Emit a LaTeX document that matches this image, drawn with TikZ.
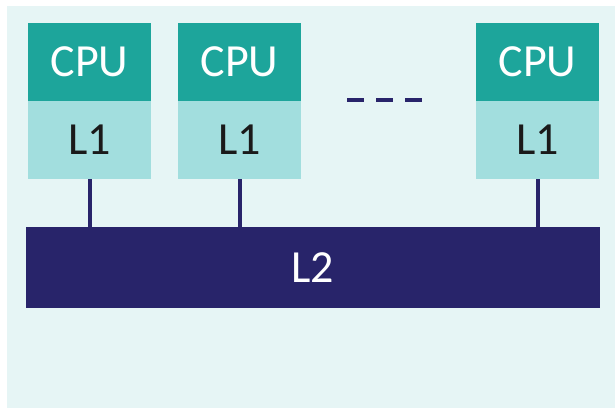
\documentclass[tikz,border=0pt]{standalone}
\usepackage{fontspec}
\setmainfont{Carlito}
\definecolor{bgc}{HTML}{E6F5F5}
\definecolor{cpuc}{HTML}{1DA59B}
\definecolor{lonec}{HTML}{A2DEDE}
\definecolor{busc}{HTML}{28246A}
\definecolor{txtc}{HTML}{1A1A1A}
\begin{document}
\begin{tikzpicture}[x=1pt,y=-1pt,
  cpubox/.style={fill=cpuc, text=white, minimum width=123pt, minimum height=78pt, inner sep=0pt, font=\fontsize{46}{46}\selectfont},
  cachebox/.style={fill=lonec, text=txtc, minimum width=123pt, minimum height=78pt, inner sep=0pt, font=\fontsize{46}{46}\selectfont},
  busbox/.style={fill=busc, text=white, minimum width=574pt, minimum height=81pt, inner sep=0pt, font=\fontsize{46}{46}\selectfont},
  link/.style={draw=busc, line width=4pt}]
  \useasboundingbox (0,0) rectangle (615,409);
  \fill[bgc] (7,6) rectangle (615,408);
  % processor columns
  \node[cpubox]   (cpua) at (89.5,62)  {CPU};
  \node[cachebox] (la)   at (89.5,140) {L1};
  \node[cpubox]   (cpub) at (239.5,62) {CPU};
  \node[cachebox] (lb)   at (239.5,140) {L1};
  \node[cpubox]   (cpuc) at (537.5,62) {CPU};
  \node[cachebox] (lc)   at (537.5,140) {L1};
  % shared cache
  \node[busbox] (ltwo) at (313,267.5) {L2};
  % links from each L1 down to L2
  \draw[link] (la.south) -- (la.south |- ltwo.north);
  \draw[link] (lb.south) -- (lb.south |- ltwo.north);
  \draw[link] (lc.south) -- (lc.south |- ltwo.north);
  % ellipsis between columns
  \coordinate (dotsa) at (347,100);
  \coordinate (dotsb) at (422,100);
  \draw[busc, line width=4pt, dash pattern=on 17pt off 12pt] (dotsa) -- (dotsb);
\end{tikzpicture}
\end{document}
